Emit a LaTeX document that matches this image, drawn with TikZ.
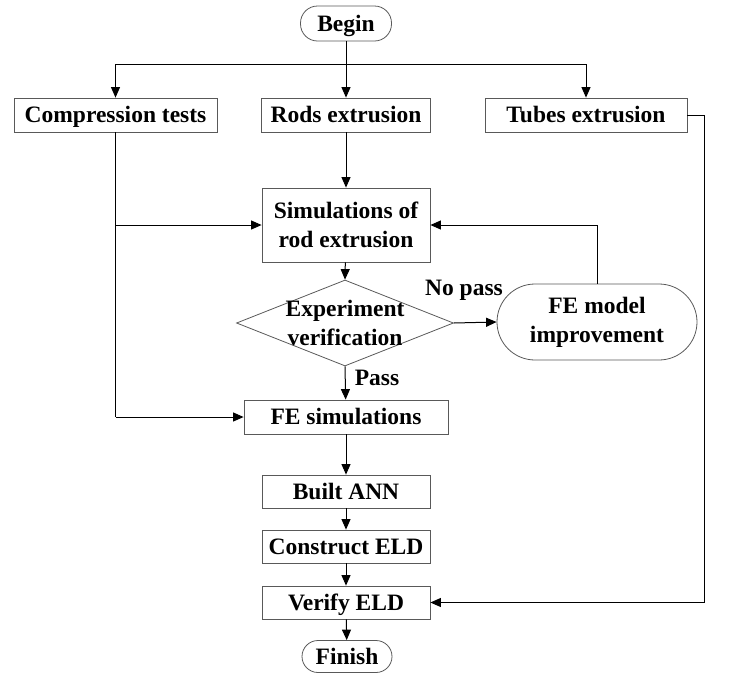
\documentclass[tikz,border=0pt]{standalone}
\usepackage{fontspec}
\setmainfont{Liberation Serif}
\usetikzlibrary{arrows.meta,shapes.geometric}

\begin{document}
\begin{tikzpicture}[x=1pt,y=-1pt,
  font=\fontsize{23.5}{29}\selectfont\bfseries,
  procbox/.style={draw=black!65, line width=0.8pt, inner sep=0pt, align=center},
  oneline/.style={procbox, text height=20pt, text depth=4.4pt},
  termbox/.style={oneline, rounded corners=#1},
  decide/.style={draw=black!65, line width=0.8pt, diamond, inner sep=0pt,
                 minimum width=217pt, minimum height=86pt},
  flow/.style={-{Triangle[length=10.5pt,width=9pt]}, line width=1pt},
  link/.style={line width=1pt}]
  \useasboundingbox (0,0) rectangle (745,673);

  %% --- start and the three branches ---
  \node[termbox=17pt, minimum width=91pt, minimum height=35pt] (begin) at (346,23.5) {Begin};
  \node[oneline, minimum width=203pt, minimum height=34pt] (comp) at (115.5,115) {Compression tests};
  \node[oneline, minimum width=169pt, minimum height=34pt] (rods) at (346,115) {Rods extrusion};
  \node[oneline, minimum width=202pt, minimum height=34pt] (tubes) at (586,115) {Tubes extrusion};

  \coordinate (split) at (346,64);
  \draw[link] (split -| comp.north) -- (split -| tubes.north);
  \draw[flow] (begin) -- (rods);
  \draw[flow] (split -| comp.north) -- (comp.north);
  \draw[flow] (split -| tubes.north) -- (tubes.north);

  %% --- simulation loop ---
  \node[procbox, minimum width=168pt, minimum height=74pt] (sim) at (346,225) {Simulations of\\rod extrusion};
  \node[decide] (check) at (345,323) {};
  \node[align=center, inner sep=0pt] (checktxt) at (check) {Experiment\\verification};
  \node[procbox, rounded corners=38pt, minimum width=200pt, minimum height=76pt] (improve) at (597,322) {FE model\\improvement};
  \node[inner sep=0pt] (nopass) at (464,290) {No pass};
  \node[inner sep=0pt] (pass) at (377,378) {Pass};

  \draw[flow] (rods) -- (sim);
  \draw[flow] (sim) -- (check.north);
  \draw[flow] (check.east) -- (improve.west);
  \draw[flow] (improve.north) -- (improve.north |- sim.east) -- (sim.east);

  %% --- main line down ---
  \node[oneline, minimum width=204pt, minimum height=34pt] (fesim) at (346,417) {FE simulations};
  \node[oneline, minimum width=168pt, minimum height=33pt] (ann) at (346,491.5) {Built ANN};
  \node[oneline, minimum width=168pt, minimum height=33pt] (eld) at (346,546.5) {Construct ELD};
  \node[oneline, minimum width=168pt, minimum height=33pt] (verify) at (346,602.5) {Verify ELD};
  \node[termbox=16pt, minimum width=90pt, minimum height=32pt] (finish) at (347,656.5) {Finish};

  \draw[flow] (check.south) -- (fesim);
  \draw[flow] (fesim) -- (ann);
  \draw[flow] (ann) -- (eld);
  \draw[flow] (eld) -- (verify);
  \draw[flow] (verify) -- (finish);

  %% compression data feeds both simulation steps
  \draw[link] (comp.south) -- (comp.south |- fesim.west);
  \draw[flow] (comp.south |- sim.west) -- (sim.west);
  \draw[flow] (comp.south |- fesim.west) -- (fesim.west);

  %% tubes go straight to the check of the ELD
  \coordinate (rail) at (704,115);
  \draw[flow] (tubes.east) -- (rail) -- (rail |- verify.east) -- (verify.east);
\end{tikzpicture}
\end{document}
